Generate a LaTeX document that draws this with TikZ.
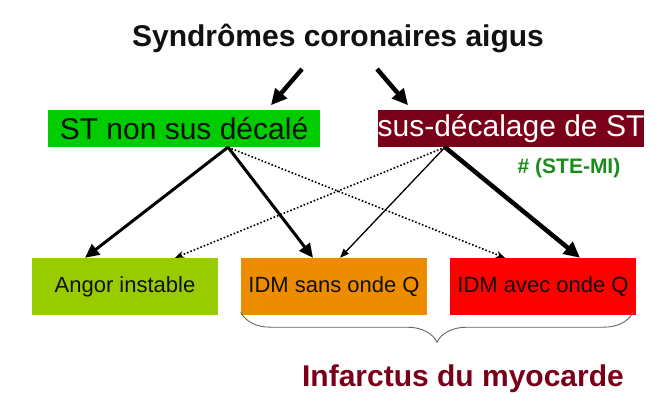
\documentclass[tikz,border=0pt]{standalone}
\usepackage{fontspec}
\setmainfont{Liberation Sans}
\usetikzlibrary{arrows.meta,decorations.pathreplacing}
\definecolor{scaGreen}{HTML}{00CC00}
\definecolor{scaWine}{HTML}{7A0019}
\definecolor{scaLime}{HTML}{99CC00}
\definecolor{scaOrange}{HTML}{EE8C00}
\definecolor{scaRed}{HTML}{FF0000}
\definecolor{scaInk}{HTML}{111111}
\definecolor{scaStemi}{HTML}{1A8C1A}
\definecolor{scaBrace}{HTML}{666666}
\tikzset{
  sca diagram/.style={x=1pt, y=-1pt, text=scaInk},
  sca top box/.style={minimum height=37pt, inner sep=0pt,
    font=\fontsize{30}{30}\selectfont},
  sca box/.style={minimum width=186pt, minimum height=57pt, inner sep=0pt,
    font=\fontsize{22}{22}\selectfont},
  sca arrow/.style={-{Triangle[length=14pt,width=13pt]}, draw=black, line width=3pt},
  sca thin arrow/.style={-{Triangle[length=9pt,width=7pt]}, draw=black, line width=1.3pt},
  sca heavy arrow/.style={-{Triangle[length=16pt,width=15pt]}, draw=black, line width=4.5pt},
  sca dotted/.style={-{Stealth[length=9pt,width=7pt]}, draw=black, line width=1.6pt, dotted},
  sca brace/.style={draw=scaBrace, line width=0.9pt,
    decorate, decoration={brace, mirror, amplitude=30pt}}
}
\begin{document}
\begin{tikzpicture}[sca diagram]
\useasboundingbox (0,0) rectangle (668,408);
\node[font=\bfseries\fontsize{30}{30}\selectfont] (title) at (338,38) {Syndrômes coronaires aigus};
\node[sca top box, fill=scaGreen, minimum width=272pt] (stn) at (184,128.5) {ST non sus décalé};
\node[sca top box, fill=scaWine, text=white, minimum width=262pt] (sts) at (511,128.5) {sus-décalage de ST};
\node[font=\bfseries\fontsize{21}{21}\selectfont, text=scaStemi] (stemi) at (569,168) {\# (STE-MI)};
\node[sca box, fill=scaLime] (angor) at (125,286.5) {Angor instable};
\node[sca box, fill=scaOrange] (idmsq) at (334,286.5) {IDM sans onde Q};
\node[sca box, fill=scaRed] (idmq) at (543,286.5) {IDM avec onde Q};
\node[font=\bfseries\fontsize{30}{30}\selectfont, text=scaWine] (infarct) at (463,379) {Infarctus du myocarde};
% points under the title and at the foot of the ST boxes
\coordinate (titleleft) at (302,69);
\coordinate (titleright) at (377,69);
\coordinate (stnfoot) at ([xshift=44pt]stn.south);
\coordinate (stsfoot) at ([xshift=-66pt]sts.south);
\draw[sca heavy arrow, shorten >=6pt] (titleleft) -- ([xshift=83pt]stn.north);
\draw[sca heavy arrow, shorten >=6pt] (titleright) -- ([xshift=-99pt]sts.north);
% ST non sus decale
\draw[sca arrow] (stnfoot) -- ([xshift=-40pt]angor.north);
\draw[sca arrow] (stnfoot) -- ([xshift=-21pt]idmsq.north);
\draw[sca dotted] (stnfoot) -- ([xshift=-38pt]idmq.north);
% sus-decalage de ST
\draw[sca dotted] (stsfoot) -- ([xshift=50pt]angor.north);
\draw[sca thin arrow] (stsfoot) -- ([xshift=6pt]idmsq.north);
\draw[sca heavy arrow] (stsfoot) -- ([xshift=37pt]idmq.north);
\draw[sca brace] ([yshift=3pt]idmsq.south west) -- ([xshift=-3pt,yshift=3pt]idmq.south east);
\end{tikzpicture}
\end{document}
